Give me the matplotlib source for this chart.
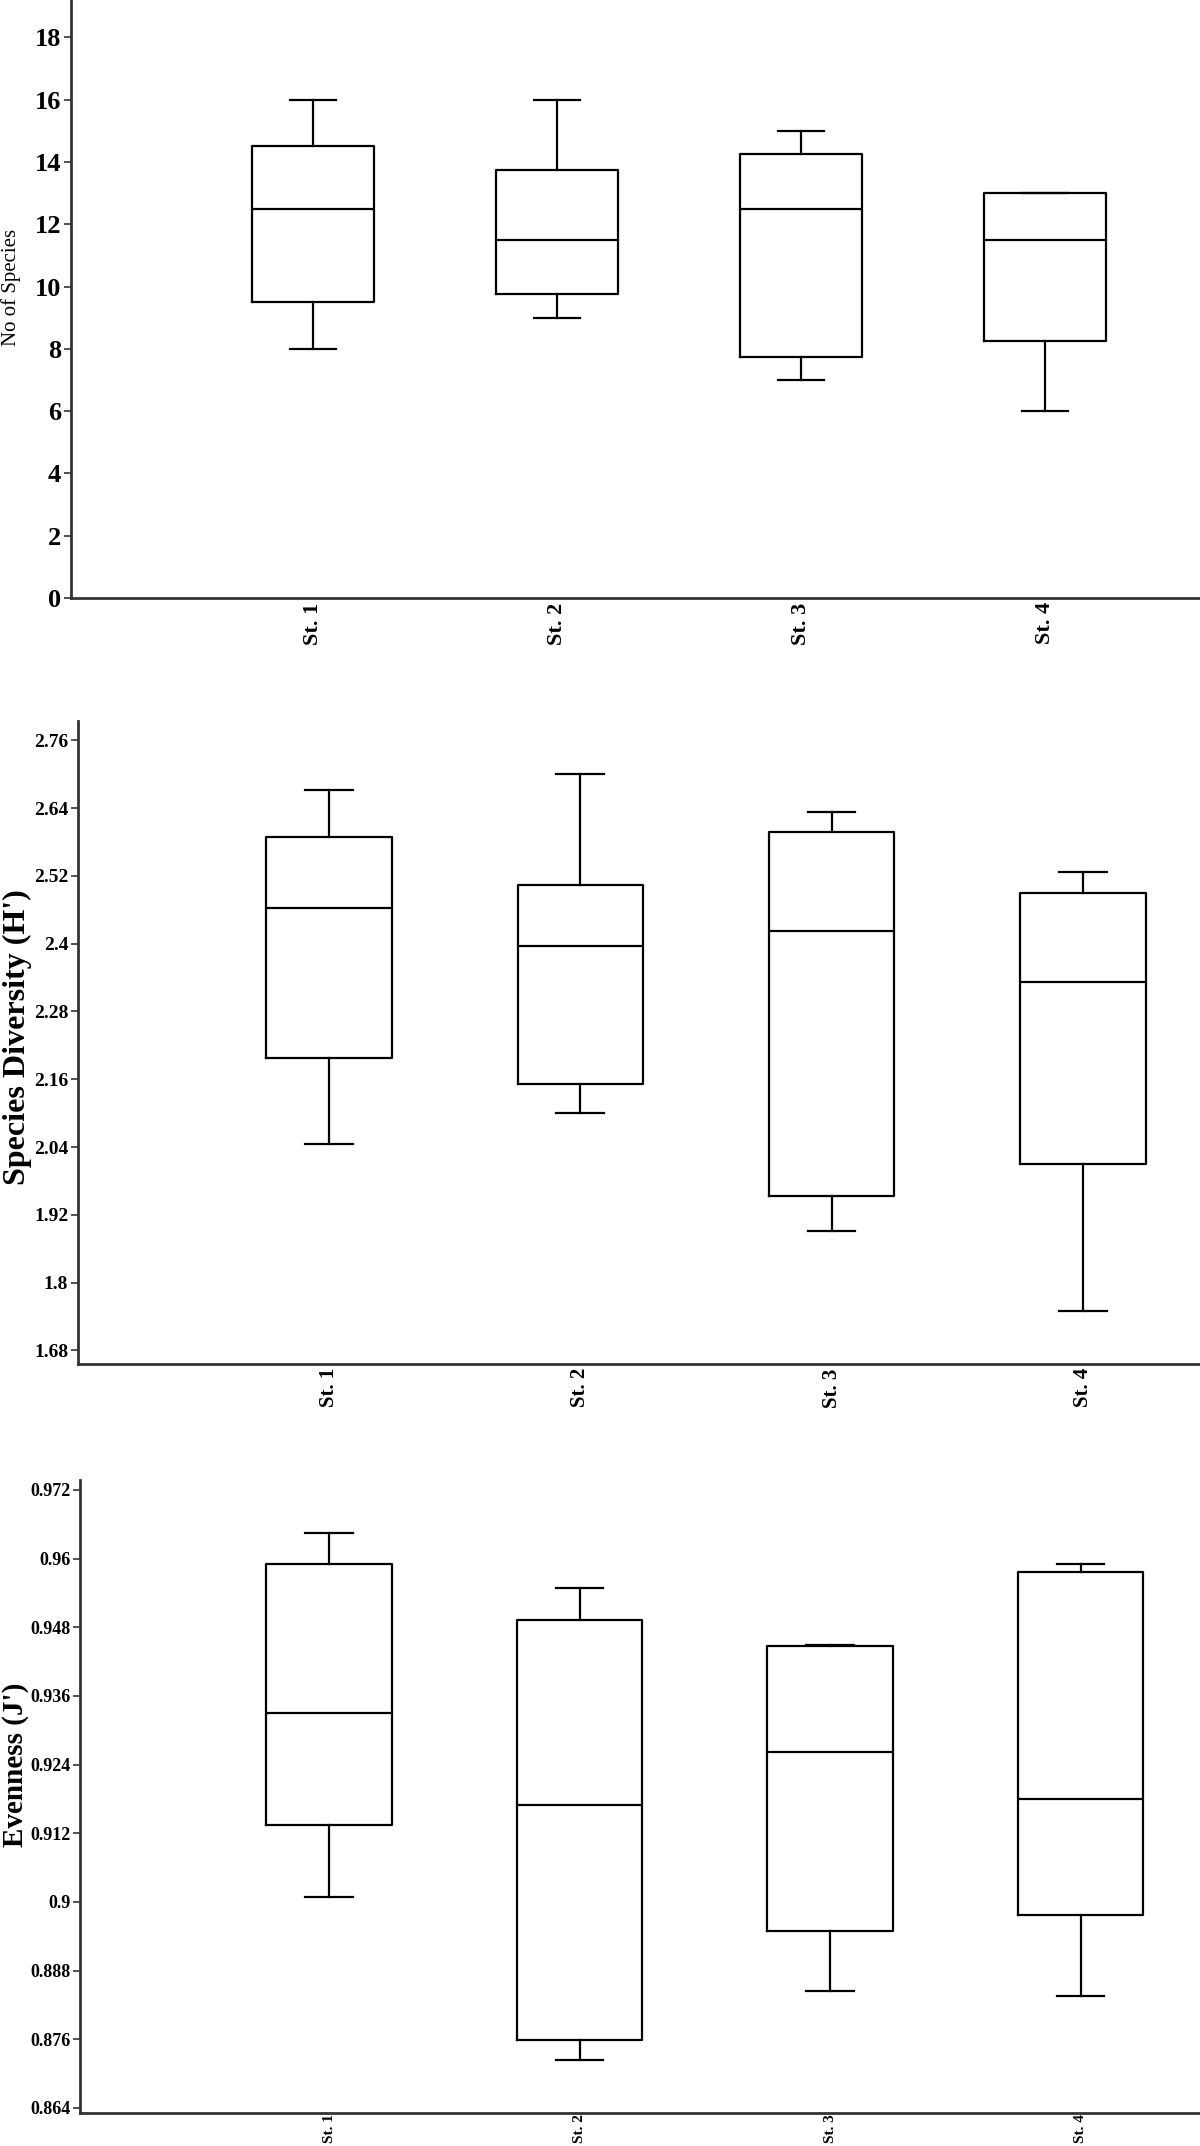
import matplotlib
matplotlib.use("Agg")
import matplotlib.pyplot as plt

plt.rcParams['font.family'] = ['Liberation Serif', 'DejaVu Serif']

stations = ['St. 1', 'St. 2', 'St. 3', 'St. 4']

# No of Species: whisker low, Q1, median, Q3, whisker high
sp_lo = [8, 9, 7, 6]
sp_q1 = [9.5, 9.75, 7.75, 8.25]
sp_med = [12.5, 11.5, 12.5, 11.5]
sp_q3 = [14.5, 13.75, 14.25, 13]
sp_hi = [16, 16, 15, 13]

# Species Diversity (H')
h_lo = [2.045, 2.100, 1.891, 1.749]
h_q1 = [2.197, 2.151, 1.953, 2.010]
h_med = [2.463, 2.395, 2.422, 2.333]
h_q3 = [2.589, 2.504, 2.597, 2.490]
h_hi = [2.672, 2.701, 2.633, 2.526]

# Evenness (J')
j_lo = [0.9008, 0.8724, 0.8845, 0.8836]
j_q1 = [0.9135, 0.8759, 0.8950, 0.8978]
j_med = [0.9330, 0.9169, 0.9262, 0.9180]
j_q3 = [0.9590, 0.9493, 0.9448, 0.9577]
j_hi = [0.9645, 0.9549, 0.9449, 0.9591]

sp_ticks = [0, 2, 4, 6, 8, 10, 12, 14, 16, 18]
h_ticks = [1.68, 1.8, 1.92, 2.04, 2.16, 2.28, 2.4, 2.52, 2.64, 2.76]
j_ticks = [0.864, 0.876, 0.888, 0.9, 0.912, 0.924, 0.936, 0.948, 0.96, 0.972]


def make_stats(lo, q1, med, q3, hi):
    out = []
    for a, b, c, d, e in zip(lo, q1, med, q3, hi):
        out.append(dict(whislo=a, q1=b, med=c, q3=d, whishi=e, fliers=[]))
    return out


def draw(ax, stats, ticks, ylim, xlim, ylabel, ylab_size, ytick_size, xtick, labcoords):
    pos = [1, 2, 3, 4]
    lw = 1.6
    ax.bxp(stats, positions=pos, widths=0.5, capwidths=0.19, showfliers=False,
           boxprops=dict(color='black', linewidth=lw),
           whiskerprops=dict(color='black', linewidth=lw),
           capprops=dict(color='black', linewidth=lw),
           medianprops=dict(color='black', linewidth=lw))
    ax.set_ylim(*ylim)
    ax.set_xlim(*xlim)
    ax.set_yticks(ticks)
    ax.set_yticklabels([('%g' % t) for t in ticks], fontsize=ytick_size, fontweight='bold')
    ax.set_xticks(pos)
    ax.set_xticklabels(stations, rotation=90, fontsize=xtick[0], fontweight='bold')
    ax.tick_params(axis='x', length=0, pad=xtick[1])
    ax.tick_params(axis='y', length=5, width=1.2, pad=2, color='#333333')
    for s in ['top', 'right']:
        ax.spines[s].set_visible(False)
    for s in ['left', 'bottom']:
        ax.spines[s].set_linewidth(2)
        ax.spines[s].set_color('#333333')
    ax.set_ylabel(ylabel, fontsize=ylab_size[0], fontweight=ylab_size[1], va='center')
    ax.yaxis.set_label_coords(*labcoords)


fig = plt.figure(figsize=(12, 21.46), dpi=100)

ax1 = fig.add_axes([0.0592, 0.7213, 0.9408, 0.2787])
draw(ax1, make_stats(sp_lo, sp_q1, sp_med, sp_q3, sp_hi), sp_ticks,
     (0, 19.2), (0.008, 4.635), 'No of Species', (15, 'normal'), 19, (16, 3), (-0.053, 0.52))

ax2 = fig.add_axes([0.065, 0.3644, 0.935, 0.2996])
draw(ax2, make_stats(h_lo, h_q1, h_med, h_q3, h_hi), h_ticks,
     (1.656, 2.794), (0.001, 4.466), "Species Diversity (H')", (23, 'bold'), 14, (15, 3), (-0.054, 0.508))

ax3 = fig.add_axes([0.0667, 0.0154, 0.9333, 0.295])
draw(ax3, make_stats(j_lo, j_q1, j_med, j_q3, j_hi), j_ticks,
     (0.86313, 0.97375), (0.006, 4.477), "Evenness (J')", (21, 'bold'), 13, (11, 1), (-0.058, 0.55))

fig.savefig('out.png', dpi=100)
